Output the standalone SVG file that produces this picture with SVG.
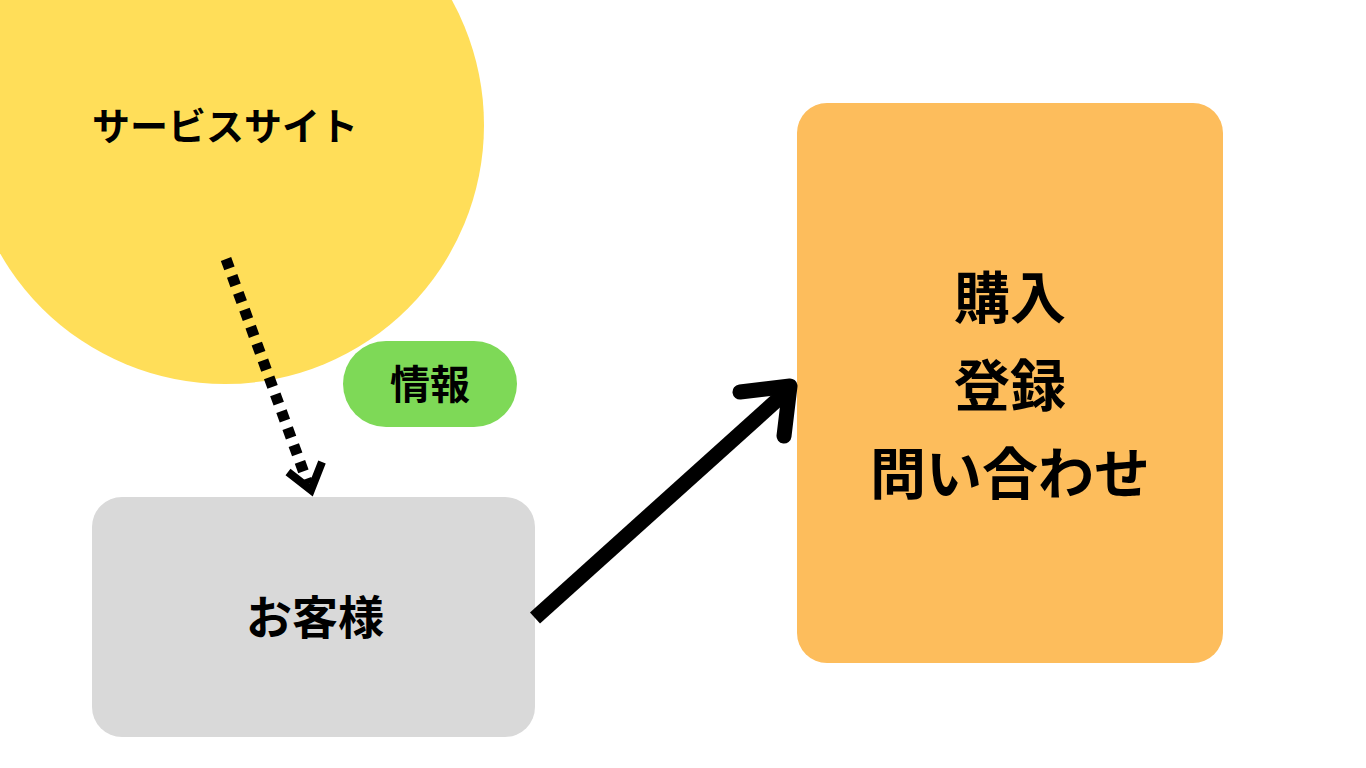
<svg xmlns="http://www.w3.org/2000/svg" width="1366" height="768" viewBox="0 0 1366 768">
<style>
text{font-family:"Noto Sans CJK JP","Noto Sans",sans-serif;font-weight:bold;fill:#000;text-anchor:middle}
</style>
<rect width="1366" height="768" fill="#fff"/>
<g id="site"><circle cx="225" cy="125" r="259" fill="#FFDE59"/><text x="225" y="140" font-size="38">サービスサイト</text></g>
<g id="info"><rect x="343" y="341" width="174" height="86" rx="43" fill="#7ED957"/><text x="430" y="399" font-size="40">情報</text></g>
<g id="customer"><rect x="92" y="497" width="443" height="240" rx="30" fill="#D9D9D9"/><text x="315" y="634" font-size="46">お客様</text></g>
<g id="actions"><rect x="797" y="103" width="426" height="560" rx="30" fill="#FDBD5C"/>
<text x="1010" y="318" font-size="56">購入</text><text x="1010" y="406" font-size="56">登録</text><text x="1010" y="494" font-size="56">問い合わせ</text></g>
<g id="connectors" fill="none" stroke="#000" stroke-linecap="butt">
<line x1="226" y1="259" x2="308" y2="484" stroke-width="11" stroke-dasharray="10 8"/>
<polyline points="288,472 311,490 322,462" stroke-width="8" stroke-linejoin="miter"/>
<line x1="535" y1="618" x2="786" y2="392" stroke-width="15"/>
<polyline points="740,392 790,386 784,436" stroke-width="15" stroke-linecap="round" stroke-linejoin="round"/>
</g>
</svg>
